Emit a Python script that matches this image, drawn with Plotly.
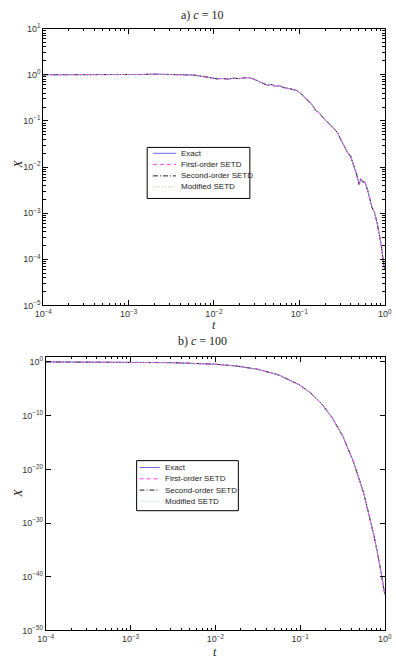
import plotly.graph_objects as go

W, H = 396, 662

# ---- Panel a) c = 10 : values (log10 t, log10 X) ----
log_t_a = [-4.00, -3.50, -3.00, -2.85, -2.70, -2.55, -2.40, -2.25, -2.15, -2.05,
           -1.96, -1.90, -1.84, -1.77, -1.70, -1.64, -1.60, -1.54, -1.47, -1.42,
           -1.37, -1.33, -1.28, -1.23, -1.18, -1.12, -1.07, -1.03, -0.98, -0.93,
           -0.89, -0.85, -0.81, -0.77, -0.72, -0.69, -0.65, -0.60, -0.55, -0.51,
           -0.47, -0.43, -0.40, -0.36, -0.33, -0.30, -0.28, -0.26, -0.23, -0.20,
           -0.17, -0.15, -0.12, -0.09, -0.06, -0.04, -0.02, 0.00]
log_x_a = [0.000, -0.003, 0.000, 0.006, 0.012, 0.008, 0.004, -0.005, -0.030, -0.070,
           -0.090, -0.080, -0.095, -0.075, -0.085, -0.065, -0.060, -0.090, -0.150, -0.200,
           -0.230, -0.210, -0.250, -0.240, -0.280, -0.300, -0.320, -0.340, -0.410, -0.500,
           -0.580, -0.650, -0.770, -0.820, -0.930, -1.000, -1.060, -1.150, -1.260, -1.420,
           -1.550, -1.700, -1.760, -1.970, -2.150, -2.380, -2.250, -2.320, -2.330, -2.500,
           -2.760, -2.870, -2.980, -3.200, -3.500, -3.700, -3.990, -4.230]

# ---- Panel b) c = 100 ----
log_t_b = [-4.0, -3.5, -3.0, -2.5, -2.0, -1.75, -1.5, -1.25, -1.0, -0.875, -0.75,
           -0.625, -0.5, -0.375, -0.25, -0.125, -0.0625, 0.0]
log_x_b = [-0.004, -0.014, -0.043, -0.137, -0.43, -0.77, -1.37, -2.44, -4.34, -5.79,
           -7.7, -10.3, -13.7, -18.4, -24.4, -32.6, -37.6, -43.4]

t_a = [10 ** v for v in log_t_a]
x_a = [10 ** v for v in log_x_a]
t_b = [10 ** v for v in log_t_b]
x_b = [10 ** v for v in log_x_b]

series_names = ["Exact", "First-order SETD", "Second-order SETD", "Modified SETD"]
colors = ["#6c6ce6", "#ff40ff", "#1a1a1a", "#a6cfa6"]
dashes = ["solid", "4px,3px", "5px,2px,1px,2px", "1px,2px"]
draw_order = [0, 2, 1, 3]

fig = go.Figure()
for xs, ys, xa, ya in ((t_a, x_a, "x", "y"), (t_b, x_b, "x2", "y2")):
    for i in draw_order:
        fig.add_trace(go.Scatter(x=xs, y=ys, mode="lines", name=series_names[i],
                                 showlegend=False,
                                 line=dict(color=colors[i], width=1, dash=dashes[i]),
                                 xaxis=xa, yaxis=ya))


def px(x):
    return x / W


def py(y):
    return 1 - y / H


tickfont = dict(family="Liberation Sans, Arial", size=9, color="#333")
sup = lambda p: "10<sup>" + ("\u2212" if p < 0 else "") + str(abs(p)) + "</sup>"

xt = [-4, -3, -2, -1, 0]
xminor = [m * 10 ** e for e in range(-4, 0) for m in range(2, 10)]
ya_t = [1, 0, -1, -2, -3, -4, -5]
yaminor = [m * 10 ** e for e in range(-5, 1) for m in range(2, 10)]
yb_t = [0, -10, -20, -30, -40, -50]

common = dict(type="log", showline=True, linecolor="black", linewidth=1, mirror="allticks",
              ticks="inside", ticklen=5, tickcolor="black", showgrid=False, zeroline=False,
              tickfont=tickfont, tickmode="array", ticklabeloverflow="allow")

fig.update_layout(
    width=W, height=H, margin=dict(l=0, r=0, t=0, b=0),
    paper_bgcolor="white", plot_bgcolor="white",
    xaxis=dict(common, domain=[px(35.7), px(391.5)], anchor="y", range=[-4, 0],
               tickvals=[10 ** v for v in xt], ticktext=[sup(v) for v in xt],
               minor=dict(tickmode="array", tickvals=xminor, ticks="inside", ticklen=2.5,
                          tickcolor="black")),
    yaxis=dict(common, domain=[py(304), py(22)], anchor="x", range=[-5, 1],
               tickvals=[10 ** v for v in ya_t], ticktext=[sup(v) for v in ya_t],
               minor=dict(tickmode="array", tickvals=yaminor, ticks="inside", ticklen=2.5,
                          tickcolor="black")),
    xaxis2=dict(common, domain=[px(38.3), px(391.7)], anchor="y2", range=[-4, 0],
                tickvals=[10 ** v for v in xt], ticktext=[sup(v) for v in xt],
                minor=dict(tickmode="array", tickvals=xminor, ticks="inside", ticklen=2.5,
                           tickcolor="black")),
    yaxis2=dict(common, domain=[py(635), py(356)], anchor="x2", range=[-50, 1],
                tickvals=[10.0 ** v for v in yb_t], ticktext=[sup(v) for v in yb_t]),
)

serif = "Liberation Serif, Times New Roman, serif"
ann = []
ann.append(dict(text="a) <i>c</i> = 10", x=px(201.5), y=py(8)))
ann.append(dict(text="b) <i>c</i> = 100", x=px(201.7), y=py(340)))
ann.append(dict(text="<i>t</i>", x=px(214), y=py(323.5)))
ann.append(dict(text="<i>t</i>", x=px(215), y=py(657)))
for a in ann:
    a.update(xref="paper", yref="paper", showarrow=False, xanchor="center", yanchor="middle",
             font=dict(family=serif, size=12, color="#222"))
for yy in (160, 495):
    ann.append(dict(text="<i>X</i>", x=px(9), y=py(yy), xref="paper", yref="paper",
                    showarrow=False, textangle=-90, xanchor="center", yanchor="middle",
                    font=dict(family=serif, size=12, color="#222")))

shapes = []


def legend_box(x0, x1, y0, y1, rows, lx0, lx1, tx):
    shapes.append(dict(type="rect", xref="paper", yref="paper", x0=px(x0), x1=px(x1),
                       y0=py(y1), y1=py(y0), line=dict(color="black", width=1),
                       fillcolor="white", layer="above"))
    for name, c, d, ry in zip(series_names, colors, dashes, rows):
        shapes.append(dict(type="line", xref="paper", yref="paper", x0=px(lx0), x1=px(lx1),
                           y0=py(ry), y1=py(ry), line=dict(color=c, width=1, dash=d),
                           layer="above"))
        ann.append(dict(text=name, x=px(tx), y=py(ry), xref="paper", yref="paper",
                        showarrow=False, xanchor="left", yanchor="middle",
                        font=dict(family="Liberation Sans, Arial", size=8, color="#222")))


legend_box(144, 251, 143, 195, [149, 160.5, 172, 183], 150, 174, 177)
legend_box(133, 239, 462, 513, [469, 480.5, 492, 503.5], 136, 157, 161)

fig.update_layout(annotations=ann, shapes=shapes)
fig.write_html("out.html")
